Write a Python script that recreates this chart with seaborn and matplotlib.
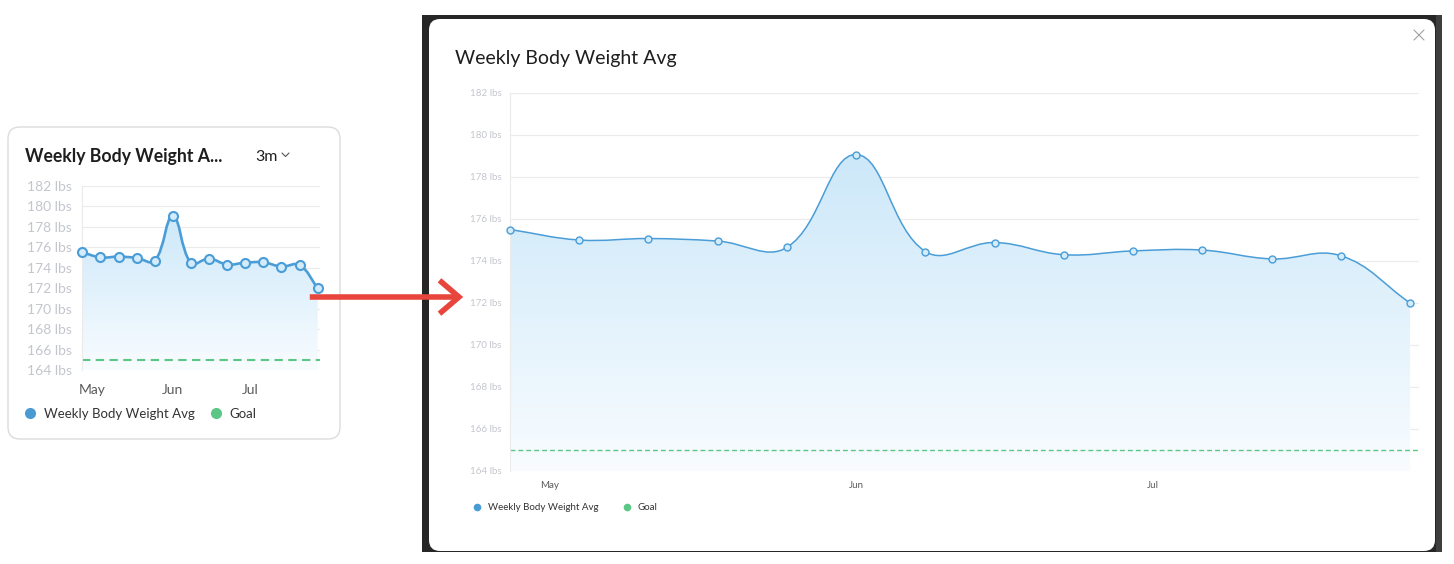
import numpy as np
import pandas as pd
import matplotlib
matplotlib.use("Agg")
import matplotlib.pyplot as plt
import matplotlib.dates as mdates
from matplotlib.path import Path
from matplotlib.patches import PathPatch, FancyBboxPatch, FancyArrowPatch
from matplotlib.lines import Line2D
from matplotlib.colors import LinearSegmentedColormap
import seaborn as sns

# weekly averages
weeks = ["2020-04-27", "2020-05-04", "2020-05-11", "2020-05-18", "2020-05-25",
         "2020-06-01", "2020-06-08", "2020-06-15", "2020-06-22", "2020-06-29",
         "2020-07-06", "2020-07-13", "2020-07-20", "2020-07-27"]
weight_avg = [175.5, 175.0, 175.07, 174.95, 174.65, 179.07, 174.45,
              174.88, 174.3, 174.48, 174.52, 174.1, 174.25, 172.0]
goal = 165
y_ticks = list(range(164, 183, 2))
month_ticks = ["2020-05-01", "2020-06-01", "2020-07-01"]
month_labels = ["May", "Jun", "Jul"]
series_names = ["Weekly Body Weight Avg", "Goal"]

LINE_BLUE = "#4a9dd7"
DOT_BLUE = "#4a9ad4"
GOAL_GREEN = "#5cc784"
FILL_TOP = "#c4e4f8"
FILL_BOTTOM = "#f8fcff"

W, H = 1454, 564

sns.set_style("white")
plt.rcParams["font.family"] = ["Lato", "DejaVu Sans"]

df = pd.DataFrame({"week": pd.to_datetime(weeks), "weight": weight_avg})
df["x"] = mdates.date2num(df["week"])
month_x = mdates.date2num(pd.to_datetime(month_ticks))


def px_box(x0, y0, x1, y1):
    # pixel box (top-left origin) -> figure fraction rect
    return [x0 / W, 1 - y1 / H, (x1 - x0) / W, (y1 - y0) / H]


def spline(ax, x, y, tension=0.4):
    # chart.js style cubic spline, control points worked out in pixel space
    pts = ax.transData.transform(np.column_stack([x, y]))
    n = len(pts)
    c_prev, c_next = [], []
    for i in range(n):
        p0, p1, p2 = pts[max(i - 1, 0)], pts[i], pts[min(i + 1, n - 1)]
        d01 = np.hypot(*(p1 - p0))
        d12 = np.hypot(*(p2 - p1))
        tot = d01 + d12
        c_prev.append(p1 - tension * d01 / tot * (p2 - p0))
        c_next.append(p1 + tension * d12 / tot * (p2 - p0))
    verts = [pts[0]]
    codes = [Path.MOVETO]
    for i in range(1, n):
        verts += [c_next[i - 1], c_prev[i], pts[i]]
        codes += [Path.CURVE4] * 3
    verts = ax.transData.inverted().transform(np.array(verts))
    return list(map(tuple, verts)), codes


def draw_chart(ax, lw, msize, medge, tick_fs, month_fs, tick_len, month_pad,
               dash, goal_lw):
    x0 = df["x"].iloc[0]
    x1 = df["x"].iloc[-1] + 0.9
    ax.set_xlim(x0, x1)
    ax.set_ylim(y_ticks[0], y_ticks[-1])
    ax.set_facecolor("none")

    verts, codes = spline(ax, df["x"].values, df["weight"].values)

    area_v = verts + [(df["x"].iloc[-1], y_ticks[0]), (x0, y_ticks[0]), verts[0]]
    area_c = codes + [Path.LINETO, Path.LINETO, Path.CLOSEPOLY]
    area = PathPatch(Path(area_v, area_c), facecolor="none", edgecolor="none")
    ax.add_patch(area)
    cmap = LinearSegmentedColormap.from_list("fill", [FILL_BOTTOM, FILL_TOP])
    grad = np.linspace(0, 1, 256).reshape(-1, 1)
    im = ax.imshow(grad, extent=[x0, x1, y_ticks[0], y_ticks[-1]], origin="lower",
                   aspect="auto", cmap=cmap, zorder=1, interpolation="bilinear")
    im.set_clip_path(area)

    ax.axhline(goal, color=GOAL_GREEN, lw=goal_lw, dashes=dash, zorder=2)

    ax.add_patch(PathPatch(Path(verts, codes), facecolor="none",
                           edgecolor=LINE_BLUE, lw=lw, zorder=3))
    sns.scatterplot(data=df, x="x", y="weight", ax=ax, s=msize ** 2,
                    color="#d3ebfa", edgecolor=LINE_BLUE, linewidth=medge,
                    zorder=4, legend=False, clip_on=False)
    ax.set_xlim(x0, x1)
    ax.set_ylim(y_ticks[0], y_ticks[-1])

    ax.set_yticks(y_ticks, [f"{t} lbs" for t in y_ticks])
    ax.set_xticks(month_x, month_labels)
    ax.set_xlabel("")
    ax.set_ylabel("")
    ax.grid(axis="y", color="#ebebeb", lw=0.8)
    ax.grid(axis="x", visible=False)
    for s in ["top", "right", "bottom"]:
        ax.spines[s].set_visible(False)
    ax.spines["left"].set_color("#ebebeb")
    ax.spines["left"].set_linewidth(0.8)
    ax.tick_params(axis="y", length=tick_len, width=0.8, color="#ebebeb",
                   pad=0.5, labelsize=tick_fs, labelcolor="#c3c6cd")
    ax.tick_params(axis="x", length=0, pad=month_pad, labelsize=month_fs,
                   labelcolor="#5a5a5a")


def legend(ax, x_px, y_px, fs, msize, textpad, colspace):
    handles = [Line2D([], [], ls="", marker="o", ms=msize, color=DOT_BLUE, mec="none"),
               Line2D([], [], ls="", marker="o", ms=msize, color=GOAL_GREEN, mec="none")]
    ax.legend(handles, series_names, loc="center left", ncol=2, frameon=False,
              bbox_to_anchor=(x_px / W, 1 - y_px / H),
              bbox_transform=ax.figure.transFigure, fontsize=fs, borderpad=0,
              borderaxespad=0, handlelength=0.8, handletextpad=textpad,
              columnspacing=colspace, labelcolor="#333333")


fig = plt.figure(figsize=(W / 100, H / 100), dpi=100)
fig.patch.set_facecolor("white")
inch = fig.dpi_scale_trans

# left card
fig.add_artist(FancyBboxPatch((0.08, (H - 439) / 100), 3.32, 3.12,
                              boxstyle="round,pad=0,rounding_size=0.12",
                              facecolor="white", edgecolor="#dcdcdc", lw=1,
                              transform=inch, zorder=-10))
# dark backdrop + modal
fig.add_artist(plt.Rectangle((4.22, (H - 552) / 100), 10.20, 5.37,
                             facecolor="#262626", edgecolor="none",
                             transform=inch, zorder=-9))
fig.add_artist(plt.Rectangle((14.36, (H - 552) / 100), 0.06, 5.37,
                             facecolor="#3e3e3e", edgecolor="none",
                             transform=inch, zorder=-9))
fig.add_artist(FancyBboxPatch((4.29, (H - 551) / 100), 10.06, 5.32,
                              boxstyle="round,pad=0,rounding_size=0.11",
                              facecolor="white", edgecolor="none",
                              transform=inch, zorder=-8))

# small chart
ax_s = fig.add_axes(px_box(82.3, 185.7, 320, 370))
draw_chart(ax_s, lw=1.9, msize=6.5, medge=1.5, tick_fs=10, month_fs=10,
           tick_len=7, month_pad=10, dash=(4, 2.6), goal_lw=1.5)
legend(ax_s, 24.5, 414, fs=9.5, msize=8, textpad=0.65, colspace=1.2)
fig.text(25 / W, 1 - 162 / H, "Weekly Body Weight A...", fontsize=12.7,
         fontweight="bold", color="#1e1e1e", va="baseline")
fig.text(255 / W, 1 - 161 / H, "3m", fontsize=11.5, color="#1e1e1e", va="baseline")
fig.add_artist(Line2D([2.82, 2.855, 2.89], [(H - 153) / 100, (H - 156.5) / 100, (H - 153) / 100],
                      color="#555555", lw=0.8, transform=inch))

# large chart
ax_l = fig.add_axes(px_box(510, 93, 1419, 471))
draw_chart(ax_l, lw=1.1, msize=5, medge=1.0, tick_fs=7, month_fs=7,
           tick_len=5.5, month_pad=7.5, dash=(3.5, 2.2), goal_lw=1.0)
legend(ax_l, 473.4, 508, fs=7, msize=5.5, textpad=0.7, colspace=2.5)
fig.text(455 / W, 1 - 64 / H, "Weekly Body Weight Avg", fontsize=14,
         color="#1e1e1e", va="baseline")

# close cross
for xs, ys in [([14.14, 14.24], [5.24, 5.34]), ([14.14, 14.24], [5.34, 5.24])]:
    fig.add_artist(Line2D(xs, ys, color="#a0a0a0", lw=0.8, transform=inch))

# red arrow
fig.add_artist(FancyArrowPatch((3.07, (H - 297) / 100), (4.66, (H - 297) / 100),
                               arrowstyle="->,head_length=0.7,head_width=0.6",
                               mutation_scale=20, color="#e8453c", lw=4.0,
                               capstyle="butt", joinstyle="miter",
                               transform=inch, zorder=10))

fig.savefig("out.png", dpi=100)
